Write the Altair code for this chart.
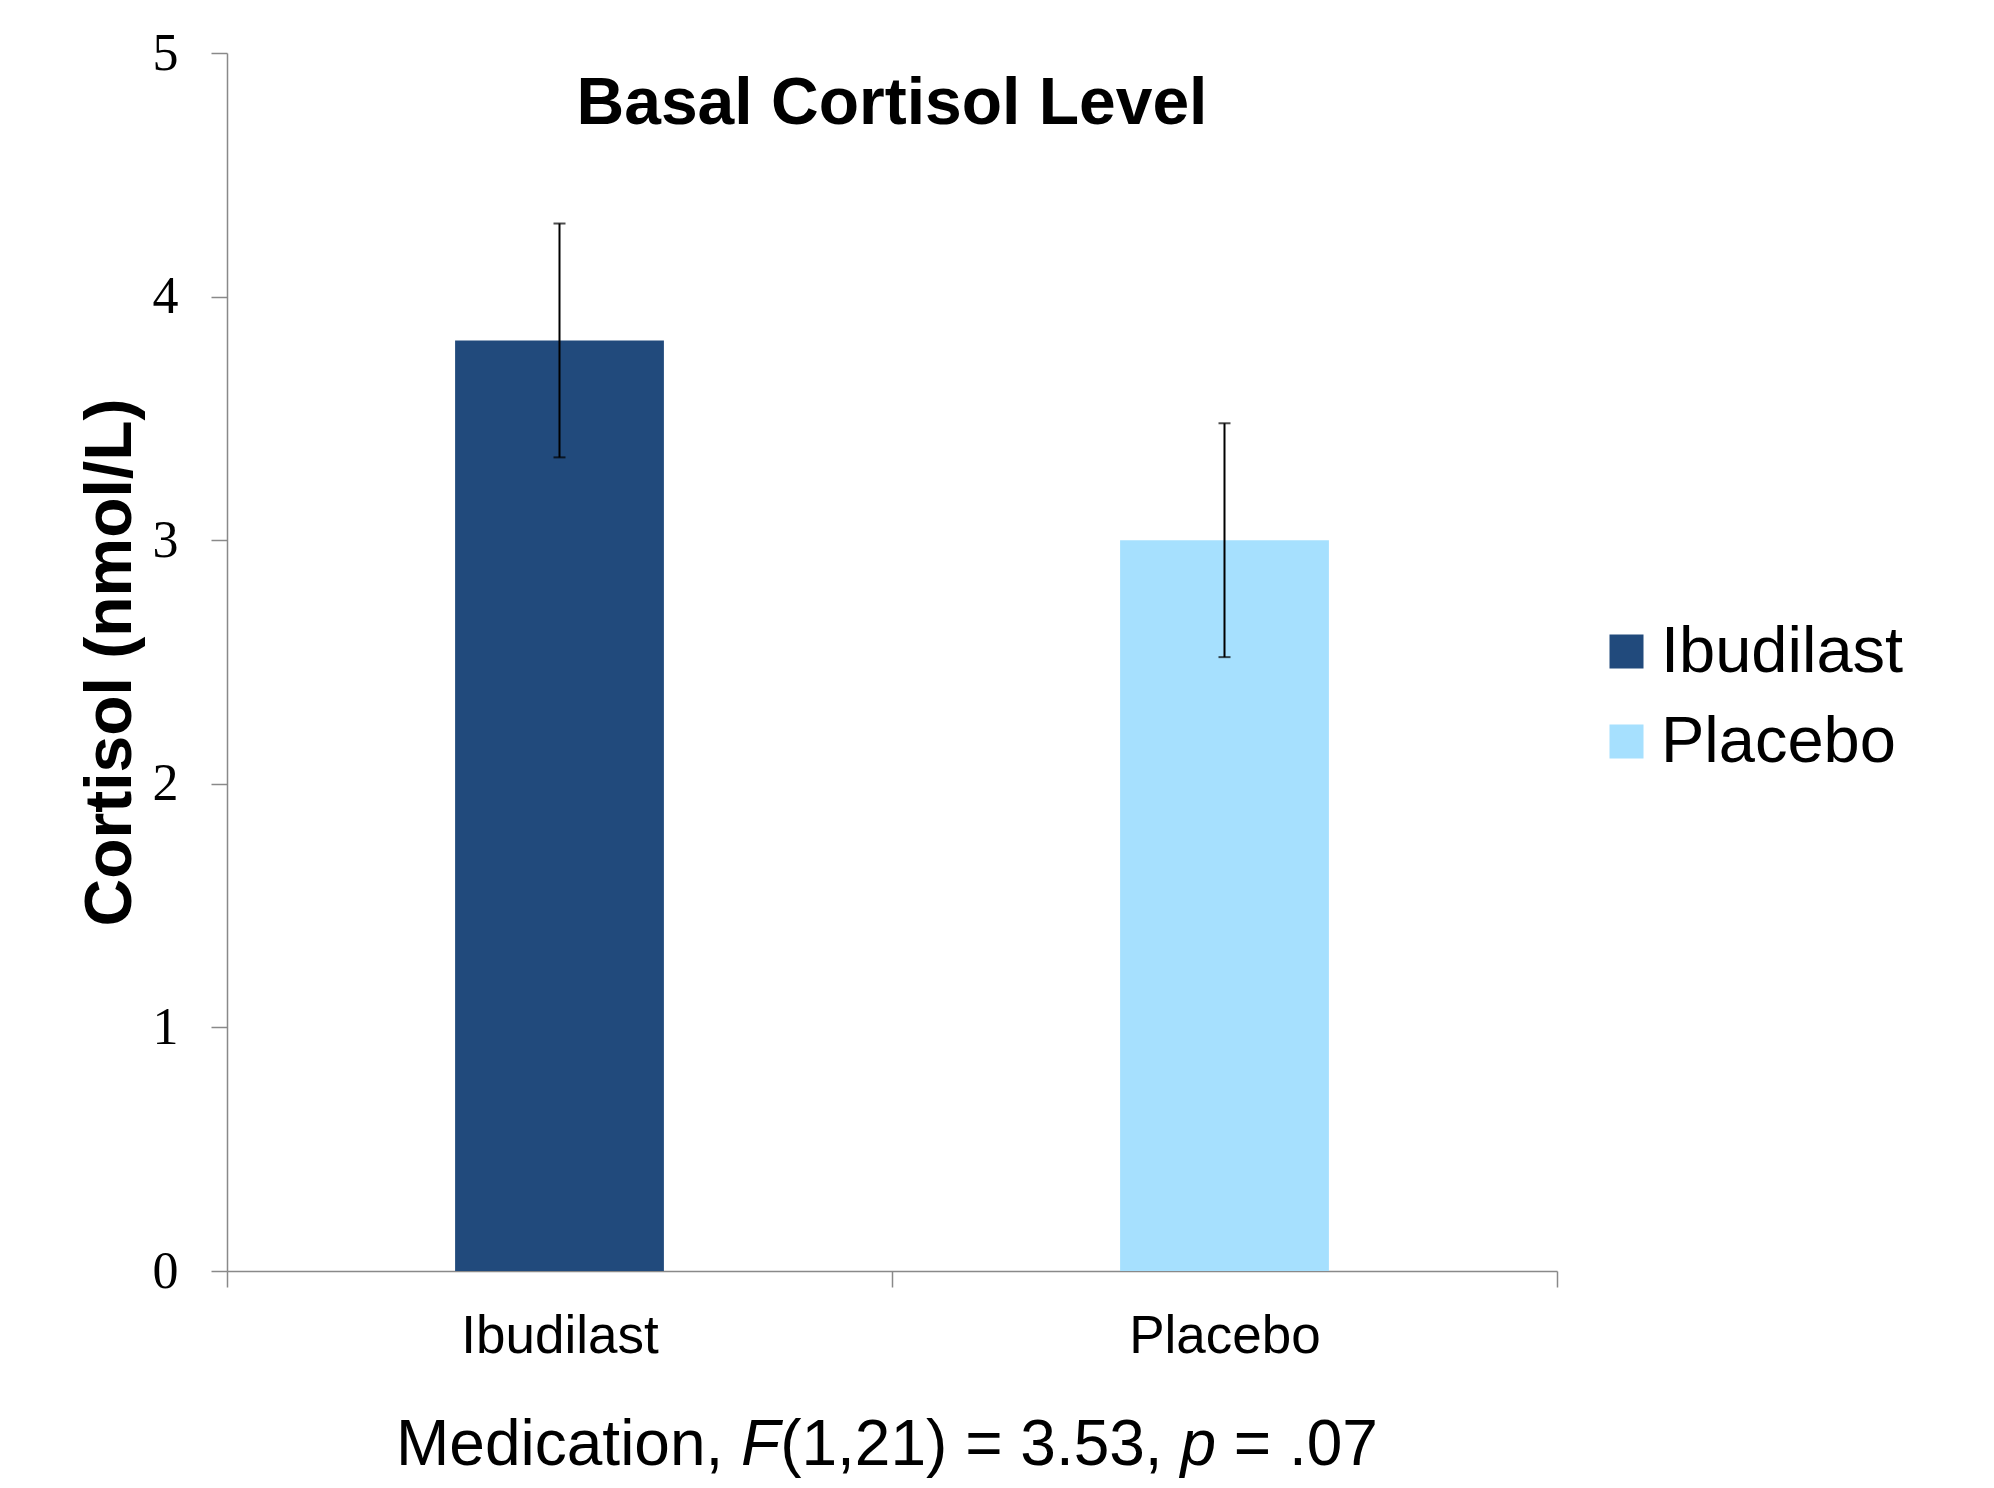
import altair as alt
import pandas as pd

# ---- data ----
groups = ["Ibudilast", "Placebo"]
means = [3.82, 3.00]
upper = [4.30, 3.48]
lower = [3.34, 2.52]
colors = ["#214A7C", "#A6E0FE"]

y_ticks = [0, 1, 2, 3, 4, 5]

# x-axis caption pieces (text, italic?)
caption_parts = [("Medication, ", False), ("F", True), ("(1,21) = 3.53, ", False),
                 ("p", True), (" = .07", False)]

df = pd.DataFrame({"group": groups, "mean": means, "upper": upper, "lower": lower})

# Arial/Liberation Sans advance widths (em) to place caption pieces
W = {"M": .833, "e": .556, "d": .556, "i": .222, "c": .5, "a": .556, "t": .278, "o": .556,
     "n": .556, ",": .278, " ": .278, "F": .611, "(": .333, ")": .333, "1": .556, "2": .556,
     "=": .584, "3": .556, ".": .278, "5": .556, "p": .556, "0": .556, "7": .556}
cap_size = 64
total = sum(W[ch] for s, _ in caption_parts for ch in s) * cap_size
plot_w, plot_h = 1330, 1218
start = plot_w / 2 - 5 - total / 2
rows = []
acc = start
for s, it in caption_parts:
    lead = len(s) - len(s.lstrip(" "))
    rows.append({"txt": s.strip(), "italic": it,
                 "xpos": acc + sum(W[ch] for ch in s[:lead]) * cap_size})
    acc += sum(W[ch] for ch in s) * cap_size
cap_df = pd.DataFrame(rows)

FONT = "Liberation Sans"
GREY = "#898989"

x_enc = alt.X("group:N", scale=alt.Scale(domain=groups, paddingInner=0, paddingOuter=0),
              axis=alt.Axis(title=None, labelAngle=0, tickBand="extent", domainColor=GREY,
                            tickColor=GREY, domainWidth=1.5, tickWidth=1.5, tickSize=16,
                            labelFont=FONT, labelFontSize=53, labelColor="black",
                            labelPadding=23, labelLimit=0))
y_scale = alt.Scale(domain=[0, 5], nice=False, zero=True)

bars = alt.Chart(df).mark_bar(width=alt.RelativeBandSize(0.314)).encode(
    x=x_enc,
    y=alt.Y("mean:Q", scale=y_scale,
            axis=alt.Axis(values=y_ticks, format="d", grid=False, title="Cortisol (nmol/L)",
                          titleFont=FONT, titleFontSize=66, titleFontWeight="bold",
                          titleColor="black", titlePadding=8,
                          domainColor=GREY, tickColor=GREY, domainWidth=1.5, tickWidth=1.5,
                          tickSize=16, labelFont="Liberation Serif", labelFontSize=52,
                          labelColor="black", labelPadding=33)),
    color=alt.Color("group:N", scale=alt.Scale(domain=groups, range=colors),
                    legend=alt.Legend(title=None, orient="none", legendX=1367, legendY=566,
                                      symbolType="square", symbolSize=1156,
                                      symbolStrokeWidth=0, labelFont=FONT,
                                      labelFontSize=65, labelColor="black", labelLimit=0,
                                      labelOffset=2, rowPadding=24)),
)

err = alt.Chart(df).mark_rule(color="black", strokeWidth=2).encode(
    x=alt.X("group:N"), y=alt.Y("lower:Q", scale=y_scale), y2="upper:Q")
cap_hi = alt.Chart(df).mark_tick(color="black", thickness=2, size=12).encode(
    x=alt.X("group:N"), y=alt.Y("upper:Q", scale=y_scale))
cap_lo = alt.Chart(df).mark_tick(color="black", thickness=2, size=12).encode(
    x=alt.X("group:N"), y=alt.Y("lower:Q", scale=y_scale))


def caption_layer(italic):
    return alt.Chart(cap_df).transform_filter(
        "datum.italic" if italic else "!datum.italic"
    ).mark_text(align="left", baseline="alphabetic", font=FONT, fontSize=cap_size,
                color="black", fontStyle="italic" if italic else "normal").encode(
        x=alt.X("xpos:Q", scale=None),
        y=alt.value(plot_h + 194),
        text="txt:N",
    )


chart = alt.layer(bars, err, cap_hi, cap_lo, caption_layer(False), caption_layer(True)).properties(
    width=plot_w, height=plot_h,
    title=alt.TitleParams("Basal Cortisol Level", font=FONT, fontSize=66, fontWeight="bold",
                          color="black", anchor="middle", baseline="alphabetic",
                          offset=-75, dy=88),
    padding={"left": 219, "top": 45, "right": 420, "bottom": 209},
    autosize="none",
).configure_view(stroke=None)

chart.save("out.html", embed_options={"renderer": "svg", "actions": False})
